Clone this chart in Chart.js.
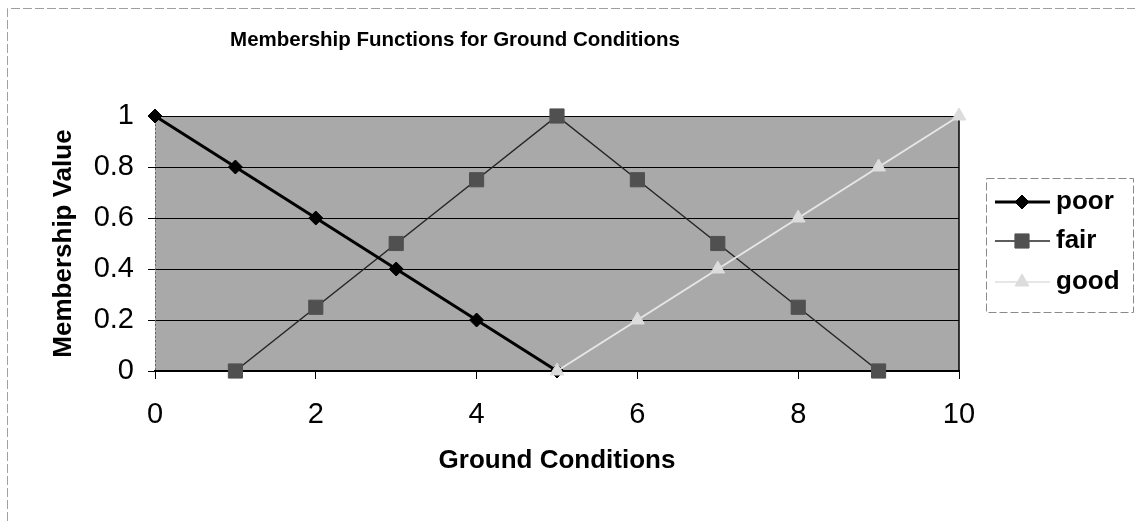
<!DOCTYPE html>
<html>
<head>
<meta charset="utf-8">
<title>Membership Functions for Ground Conditions</title>
<script src="https://cdn.jsdelivr.net/npm/chart.js@4/dist/chart.umd.min.js"></script>
<style>
  html, body { margin: 0; padding: 0; background: #fff; }
  #wrap { position: relative; width: 1135px; height: 521px; }
</style>
</head>
<body>
<div id="wrap"><canvas id="membership-chart" width="1135" height="521"></canvas></div>
<script>
// ground condition scores along the x axis
const groundX = [0, 1, 2, 3, 4, 5, 6, 7, 8, 9, 10];
// membership values per class (null = not defined at that score)
const poorValues = [1, 0.8, 0.6, 0.4, 0.2, 0, null, null, null, null, null];
const fairValues = [null, 0, 0.25, 0.5, 0.75, 1, 0.75, 0.5, 0.25, 0, null];
const goodValues = [null, null, null, null, null, 0, 0.2, 0.4, 0.6, 0.8, 1];
const seriesNames = ['poor', 'fair', 'good'];
const xTicks = [0, 2, 4, 6, 8, 10];
const yTicks = [0, 0.2, 0.4, 0.6, 0.8, 1];

const FONT = "'Liberation Sans', Arial, Helvetica, sans-serif";

function toPoints(values) {
    return groundX.map((x, i) => ({ x: x, y: values[i] }));
}

// grey plot area, plot borders, outer frame, title and boxed legend
const excelLook = {
    id: 'excelLook',
    beforeDraw(chart) {
        const { ctx, chartArea: a } = chart;
        ctx.save();
        ctx.fillStyle = '#a9a9a9';
        ctx.fillRect(a.left, a.top, a.right - a.left, a.bottom - a.top);

        // outer chart frame
        ctx.strokeStyle = '#a0a0a0';
        ctx.lineWidth = 1;
        ctx.setLineDash([9, 3]);
        ctx.beginPath();
        ctx.moveTo(7.5, 521);
        ctx.lineTo(7.5, 8.5);
        ctx.lineTo(1135, 8.5);
        ctx.stroke();
        ctx.setLineDash([]);

        ctx.fillStyle = '#000';
        ctx.font = 'bold 20.5px ' + FONT;
        ctx.textAlign = 'center';
        ctx.textBaseline = 'middle';
        ctx.fillText('Membership Functions for Ground Conditions', 455, 40);
        ctx.restore();
    },
    beforeDatasetsDraw(chart) {
        const { ctx, chartArea: a } = chart;
        ctx.save();
        ctx.strokeStyle = '#000';
        ctx.lineWidth = 1.5;
        ctx.beginPath();
        ctx.moveTo(a.right, a.top);
        ctx.lineTo(a.right, a.bottom);
        ctx.stroke();
        // faint dotted left edge
        ctx.strokeStyle = '#666';
        ctx.lineWidth = 1;
        ctx.setLineDash([2, 2]);
        ctx.beginPath();
        ctx.moveTo(a.left + 0.5, a.top);
        ctx.lineTo(a.left + 0.5, a.bottom);
        ctx.stroke();
        ctx.restore();
    },
    afterDraw(chart) {
        const { ctx } = chart;
        const box = { x: 986, y: 178, w: 147, h: 134 };
        const rowsY = [202, 241, 282];
        ctx.save();
        ctx.strokeStyle = '#8a8a8a';
        ctx.lineWidth = 1;
        ctx.setLineDash([8, 3]);
        ctx.strokeRect(box.x + 0.5, box.y + 0.5, box.w, box.h);
        ctx.setLineDash([]);

        chart.data.datasets.forEach((ds, i) => {
            const y = rowsY[i];
            ctx.strokeStyle = ds.borderColor;
            ctx.lineWidth = ds.borderWidth;
            ctx.beginPath();
            ctx.moveTo(995, y);
            ctx.lineTo(1050, y);
            ctx.stroke();
            ctx.fillStyle = ds.pointBackgroundColor;
            ctx.strokeStyle = ds.pointBorderColor;
            ctx.lineWidth = ds.pointBorderWidth;
            Chart.helpers.drawPoint(ctx, {
                pointStyle: ds.pointStyle,
                radius: ds.pointRadius,
                rotation: 0,
                borderWidth: ds.pointBorderWidth
            }, 1022, y);

            ctx.fillStyle = '#000';
            ctx.font = 'bold 26px ' + FONT;
            ctx.textAlign = 'left';
            ctx.textBaseline = 'middle';
            ctx.fillText(ds.label, 1056, y);
        });
        ctx.restore();
    }
};

new Chart(document.getElementById('membership-chart'), {
    type: 'line',
    data: {
        datasets: [{
            label: seriesNames[0],
            data: toPoints(poorValues),
            borderColor: '#000000',
            borderWidth: 3,
            pointStyle: 'rectRot',
            pointRadius: 7,
            pointBackgroundColor: '#000000',
            pointBorderColor: '#000000',
            pointBorderWidth: 1,
            order: 1
        }, {
            label: seriesNames[1],
            data: toPoints(fairValues),
            borderColor: '#262626',
            borderWidth: 1.5,
            pointStyle: 'rect',
            pointRadius: 10,
            pointBackgroundColor: '#505050',
            pointBorderColor: '#505050',
            pointBorderWidth: 1,
            order: 2
        }, {
            label: seriesNames[2],
            data: toPoints(goodValues),
            borderColor: '#e6e6e6',
            borderWidth: 2,
            pointStyle: 'triangle',
            pointRadius: 8,
            pointBackgroundColor: '#dcdcdc',
            pointBorderColor: '#dcdcdc',
            pointBorderWidth: 1,
            order: 0
        }]
    },
    options: {
        responsive: false,
        animation: false,
        spanGaps: false,
        clip: false,
        layout: { padding: { top: 116, right: 176, bottom: 0, left: 0 } },
        plugins: {
            legend: { display: false },
            title: { display: false },
            tooltip: { enabled: false }
        },
        scales: {
            x: {
                type: 'linear',
                min: 0,
                max: 10,
                afterFit: (scale) => { scale.height = 150; },
                afterBuildTicks: (scale) => { scale.ticks = xTicks.map(v => ({ value: v })); },
                ticks: {
                    color: '#000',
                    font: { family: FONT, size: 29 },
                    padding: 19,
                    maxRotation: 0
                },
                grid: {
                    drawOnChartArea: false,
                    drawTicks: true,
                    tickLength: 8,
                    tickColor: '#000',
                    tickWidth: 1
                },
                border: { display: true, color: '#000', width: 2 },
                title: {
                    display: true,
                    text: 'Ground Conditions',
                    color: '#000',
                    font: { family: FONT, size: 26, weight: 'bold' },
                    padding: { top: 0, bottom: 45 }
                }
            },
            y: {
                min: 0,
                max: 1,
                afterFit: (scale) => { scale.width = 155; },
                afterBuildTicks: (scale) => { scale.ticks = yTicks.map(v => ({ value: v })); },
                ticks: {
                    color: '#000',
                    font: { family: FONT, size: 29 },
                    padding: 14,
                    callback: (v) => String(Math.round(v * 10) / 10)
                },
                grid: {
                    color: '#000',
                    lineWidth: 1,
                    drawTicks: true,
                    tickLength: 7,
                    tickColor: '#000'
                },
                border: { display: false },
                title: {
                    display: true,
                    text: 'Membership Value',
                    color: '#000',
                    font: { family: FONT, size: 26, weight: 'bold' },
                    padding: { top: 48, bottom: 0 }
                }
            }
        }
    },
    plugins: [excelLook]
});
</script>
</body>
</html>
